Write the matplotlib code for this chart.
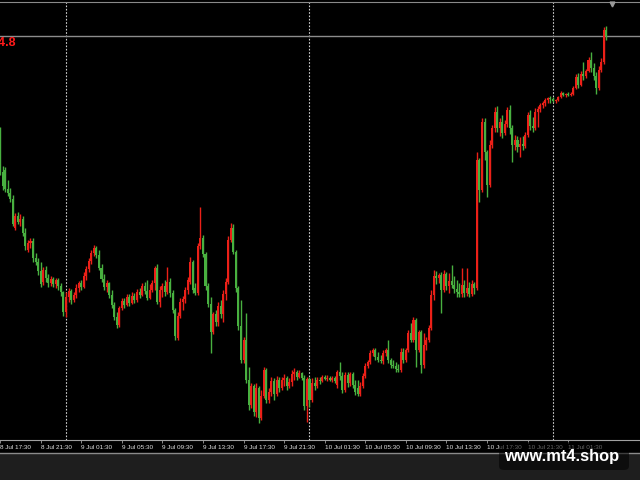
import numpy as np
import pandas as pd
import matplotlib
matplotlib.use("Agg")
import matplotlib.pyplot as plt
from matplotlib.patches import Rectangle, FancyBboxPatch
from matplotlib.lines import Line2D

# M15 candles, 8 Jul 17:30 -> 11 Jul 05:15
start_time = "2024-07-08 17:30"

opens = [
    2395.4, 2391.2, 2391.4, 2389.5, 2389.1, 2388.5, 2385.6, 2386.8, 2386.2, 2386.5,
    2385.1, 2383.4, 2384.1, 2384.3, 2382.6, 2382.2, 2381.3, 2380.2, 2381.4, 2380.6,
    2380.1, 2380.5, 2380.0, 2380.4, 2379.8, 2379.2, 2377.2, 2378.7, 2379.3, 2378.4,
    2378.9, 2379.6, 2380.1, 2379.7, 2380.8, 2381.5, 2382.3, 2383.1, 2383.6, 2382.9,
    2381.6, 2380.5, 2379.7, 2380.1, 2378.9, 2377.9, 2376.7, 2375.9, 2377.6, 2378.3,
    2377.9, 2378.7, 2378.1, 2378.8, 2378.4, 2379.2, 2378.9, 2379.8, 2379.3, 2378.6,
    2379.4, 2380.1, 2381.6, 2378.2, 2379.4, 2379.8, 2379.2, 2380.2, 2379.1, 2377.4,
    2374.6, 2376.8, 2378.2, 2378.5, 2379.4, 2380.2, 2382.2, 2379.6, 2379.1, 2383.8,
    2384.6, 2383.0, 2379.8, 2378.0, 2375.2, 2377.0, 2376.2, 2377.8, 2377.0, 2379.0,
    2380.2, 2384.4, 2385.6, 2383.2, 2379.6, 2375.8, 2372.4, 2374.4, 2370.4, 2367.9,
    2369.8, 2367.2, 2369.6, 2366.6, 2368.8, 2371.4, 2368.4, 2369.2, 2370.3, 2369.0,
    2370.4, 2369.6, 2370.4, 2370.6, 2369.8, 2370.2, 2371.0, 2371.2, 2370.7, 2371.1,
    2370.6, 2367.8, 2370.5, 2368.4, 2370.1, 2369.8, 2370.4, 2370.3, 2370.7, 2370.5,
    2370.6, 2370.4, 2370.6, 2369.9, 2371.2, 2370.8, 2369.4, 2370.9, 2370.1, 2371.0,
    2369.9, 2369.6, 2369.0, 2369.8, 2370.8, 2371.8, 2372.2, 2373.1, 2373.4, 2372.7,
    2372.4, 2372.3, 2373.1, 2373.4, 2372.4, 2371.9, 2371.8, 2371.5, 2371.4, 2373.2,
    2372.4, 2373.4, 2375.1, 2374.4, 2376.4, 2373.4, 2375.2, 2371.9, 2373.9, 2374.4,
    2375.6, 2378.9, 2380.8, 2380.6, 2380.9, 2379.4, 2381.0, 2379.8, 2380.3, 2379.9,
    2379.5, 2379.2, 2379.0, 2379.9, 2379.1, 2379.6, 2379.0, 2380.0, 2379.6, 2392.4,
    2389.4, 2396.2, 2393.2, 2389.9, 2393.9, 2395.6, 2397.2, 2395.6, 2396.2, 2395.1,
    2396.0, 2397.4, 2395.6, 2393.9, 2394.4, 2393.7, 2394.0, 2393.8, 2394.9, 2396.9,
    2395.8, 2395.6, 2397.2, 2397.5, 2397.9, 2398.1, 2398.4, 2398.6, 2398.5, 2398.3,
    2398.4, 2398.7, 2399.1, 2398.9, 2399.0, 2398.9, 2399.0, 2399.6, 2400.7, 2399.9,
    2401.0, 2400.8, 2401.3, 2402.4, 2401.6, 2400.8, 2399.6, 2401.4, 2402.2, 2405.4,
]
highs = [
    2395.7, 2391.8, 2391.7, 2390.4, 2389.6, 2388.9, 2387.1, 2387.2, 2387.0, 2386.8,
    2385.6, 2384.4, 2384.6, 2384.6, 2383.1, 2382.6, 2382.2, 2381.7, 2381.8, 2381.0,
    2380.8, 2380.7, 2380.6, 2380.6, 2380.1, 2379.3, 2379.2, 2379.6, 2379.5, 2379.2,
    2380.0, 2380.3, 2380.4, 2381.2, 2381.8, 2382.6, 2383.4, 2383.9, 2383.8, 2383.4,
    2382.0, 2381.0, 2380.4, 2380.2, 2379.4, 2378.2, 2377.2, 2377.8, 2378.6, 2378.6,
    2379.0, 2379.0, 2379.2, 2379.1, 2379.5, 2379.6, 2380.1, 2380.2, 2380.4, 2380.0,
    2380.4, 2381.8, 2382.0, 2379.8, 2380.1, 2380.4, 2381.7, 2380.6, 2379.4, 2377.6,
    2377.2, 2378.6, 2378.8, 2379.7, 2380.7, 2382.7, 2382.4, 2380.1, 2384.1, 2387.7,
    2384.9, 2383.2, 2380.1, 2378.7, 2377.2, 2377.4, 2378.2, 2378.4, 2379.4, 2380.6,
    2384.8, 2386.1, 2386.0, 2383.4, 2379.8, 2378.4, 2374.7, 2377.1, 2371.7, 2370.1,
    2370.0, 2370.1, 2369.8, 2369.4, 2371.7, 2371.6, 2369.6, 2370.7, 2370.6, 2370.8,
    2370.7, 2370.7, 2371.0, 2370.8, 2370.6, 2371.4, 2371.6, 2371.4, 2371.4, 2371.2,
    2370.9, 2370.7, 2370.7, 2370.6, 2370.7, 2370.7, 2370.7, 2370.9, 2370.9, 2370.9,
    2370.8, 2370.8, 2370.8, 2371.4, 2372.2, 2371.2, 2371.2, 2371.2, 2371.2, 2371.2,
    2370.4, 2370.4, 2370.2, 2371.1, 2372.1, 2372.4, 2373.4, 2373.6, 2373.6, 2373.2,
    2372.9, 2373.4, 2373.6, 2374.4, 2372.6, 2372.4, 2372.2, 2372.0, 2373.6, 2373.6,
    2373.6, 2375.4, 2376.1, 2376.7, 2376.6, 2375.4, 2375.4, 2375.1, 2374.7, 2375.9,
    2379.4, 2381.4, 2381.3, 2381.1, 2381.2, 2381.4, 2381.2, 2381.1, 2381.9, 2380.8,
    2380.4, 2380.1, 2381.6, 2380.4, 2381.6, 2380.2, 2380.4, 2380.2, 2393.2, 2392.6,
    2396.6, 2396.6, 2393.4, 2394.4, 2395.9, 2397.7, 2397.8, 2396.6, 2396.9, 2396.4,
    2397.7, 2397.9, 2395.9, 2394.9, 2394.8, 2394.7, 2394.8, 2395.2, 2397.2, 2397.4,
    2396.7, 2397.6, 2397.8, 2398.1, 2398.3, 2398.6, 2398.7, 2398.8, 2398.7, 2398.5,
    2398.8, 2399.3, 2399.2, 2399.1, 2399.2, 2399.2, 2399.8, 2401.0, 2401.1, 2401.3,
    2402.2, 2401.5, 2402.7, 2403.2, 2402.1, 2401.2, 2401.8, 2402.6, 2405.7, 2405.8,
]
lows = [
    2390.9, 2389.4, 2389.2, 2388.8, 2388.2, 2385.8, 2385.4, 2386.0, 2385.8, 2384.8,
    2383.4, 2383.2, 2383.6, 2382.2, 2381.9, 2380.9, 2379.7, 2379.9, 2380.2, 2379.7,
    2379.8, 2379.7, 2379.6, 2379.4, 2378.8, 2376.8, 2376.7, 2378.2, 2378.0, 2378.2,
    2378.6, 2379.2, 2379.4, 2379.6, 2380.4, 2381.2, 2382.0, 2382.8, 2382.6, 2381.4,
    2380.2, 2379.4, 2379.2, 2378.6, 2377.6, 2376.4, 2375.6, 2375.7, 2377.4, 2377.6,
    2377.8, 2377.8, 2378.0, 2378.1, 2378.2, 2378.6, 2378.8, 2379.0, 2378.4, 2378.5,
    2379.2, 2379.4, 2378.0, 2377.7, 2378.7, 2378.8, 2379.0, 2378.7, 2377.1, 2374.4,
    2374.4, 2376.6, 2377.4, 2378.1, 2379.0, 2380.0, 2379.1, 2378.9, 2378.9, 2383.5,
    2382.7, 2379.4, 2377.7, 2373.1, 2375.0, 2375.8, 2375.8, 2376.6, 2376.2, 2378.4,
    2380.0, 2384.2, 2383.0, 2379.2, 2375.4, 2372.1, 2372.1, 2370.1, 2367.4, 2367.6,
    2366.8, 2366.7, 2366.1, 2366.4, 2368.6, 2368.1, 2368.1, 2368.8, 2368.4, 2368.8,
    2369.2, 2369.4, 2369.8, 2369.4, 2369.6, 2369.8, 2370.4, 2370.4, 2370.6, 2370.4,
    2367.4, 2366.2, 2367.7, 2368.2, 2369.4, 2369.6, 2370.0, 2370.2, 2370.4, 2370.3,
    2370.3, 2370.2, 2370.1, 2369.6, 2370.4, 2369.1, 2369.2, 2369.7, 2369.8, 2369.6,
    2368.9, 2368.8, 2368.8, 2369.6, 2370.6, 2371.6, 2372.0, 2372.8, 2372.4, 2372.2,
    2372.1, 2372.0, 2372.8, 2372.1, 2371.6, 2371.6, 2371.2, 2371.2, 2371.2, 2372.1,
    2372.2, 2373.2, 2374.2, 2374.2, 2371.7, 2373.2, 2371.1, 2371.6, 2373.4, 2374.2,
    2375.4, 2378.4, 2380.0, 2380.1, 2377.1, 2379.2, 2379.4, 2379.1, 2379.6, 2379.1,
    2378.7, 2378.7, 2378.7, 2378.7, 2378.8, 2378.7, 2378.8, 2379.0, 2379.4, 2388.2,
    2389.2, 2392.4, 2388.7, 2389.7, 2393.6, 2395.2, 2395.2, 2394.8, 2394.6, 2394.9,
    2395.7, 2395.0, 2392.2, 2393.4, 2393.2, 2392.7, 2393.4, 2393.6, 2394.7, 2395.4,
    2395.2, 2395.4, 2395.7, 2397.2, 2397.6, 2397.8, 2398.1, 2398.1, 2398.2, 2398.1,
    2398.3, 2398.6, 2398.8, 2398.7, 2398.8, 2398.8, 2398.9, 2399.5, 2399.6, 2399.8,
    2400.4, 2400.6, 2401.2, 2401.2, 2400.4, 2399.0, 2399.4, 2401.2, 2402.0, 2404.4,
]
closes = [
    2391.2, 2389.8, 2389.5, 2389.1, 2388.5, 2386.0, 2386.8, 2386.2, 2386.5, 2385.1,
    2383.8, 2384.1, 2384.3, 2382.6, 2382.2, 2381.3, 2380.0, 2381.4, 2380.6, 2380.1,
    2380.5, 2380.0, 2380.4, 2379.8, 2379.2, 2377.2, 2378.7, 2379.3, 2378.4, 2378.9,
    2379.6, 2380.1, 2379.7, 2380.8, 2381.5, 2382.3, 2383.1, 2383.6, 2382.9, 2381.6,
    2380.5, 2379.7, 2380.1, 2378.9, 2377.9, 2376.7, 2375.9, 2377.6, 2378.3, 2377.9,
    2378.7, 2378.1, 2378.8, 2378.4, 2379.2, 2378.9, 2379.8, 2379.3, 2378.6, 2379.4,
    2380.1, 2381.6, 2378.2, 2379.4, 2379.8, 2379.2, 2380.2, 2379.1, 2377.4, 2374.8,
    2376.8, 2378.2, 2378.5, 2379.4, 2380.4, 2382.2, 2379.4, 2379.1, 2383.8, 2384.6,
    2383.0, 2379.8, 2378.0, 2375.2, 2377.0, 2376.2, 2377.8, 2377.0, 2379.0, 2380.2,
    2384.4, 2385.6, 2383.2, 2379.6, 2375.8, 2372.4, 2374.4, 2370.4, 2367.9, 2369.8,
    2367.2, 2369.6, 2366.6, 2368.8, 2371.4, 2368.4, 2369.2, 2370.3, 2369.0, 2370.4,
    2369.6, 2370.4, 2370.6, 2369.8, 2370.2, 2371.0, 2371.2, 2370.7, 2371.1, 2370.6,
    2367.8, 2370.5, 2368.4, 2370.1, 2369.8, 2370.4, 2370.3, 2370.7, 2370.5, 2370.6,
    2370.4, 2370.6, 2370.3, 2371.2, 2370.8, 2369.4, 2370.9, 2370.1, 2371.0, 2369.9,
    2369.2, 2369.0, 2369.8, 2370.8, 2371.8, 2372.2, 2373.1, 2373.4, 2372.7, 2372.4,
    2372.3, 2373.1, 2373.4, 2372.4, 2371.9, 2371.8, 2371.5, 2371.4, 2373.2, 2372.4,
    2373.4, 2375.1, 2374.4, 2376.4, 2373.4, 2375.2, 2371.9, 2373.9, 2374.4, 2375.6,
    2378.9, 2380.8, 2380.6, 2380.9, 2379.4, 2381.0, 2379.8, 2380.3, 2379.9, 2379.5,
    2379.2, 2379.0, 2379.9, 2379.1, 2379.6, 2379.0, 2380.0, 2379.6, 2392.4, 2389.4,
    2396.2, 2393.2, 2389.9, 2393.9, 2395.6, 2397.2, 2395.6, 2396.2, 2395.1, 2396.0,
    2397.4, 2395.6, 2393.9, 2394.4, 2393.7, 2394.0, 2393.8, 2394.9, 2396.9, 2395.8,
    2395.6, 2397.2, 2397.5, 2397.9, 2398.1, 2398.4, 2398.6, 2398.5, 2398.3, 2398.4,
    2398.7, 2399.1, 2398.9, 2399.0, 2398.9, 2399.0, 2399.6, 2400.7, 2399.9, 2401.0,
    2400.8, 2401.3, 2402.4, 2401.6, 2400.8, 2399.6, 2401.4, 2402.2, 2405.4, 2404.8,
]

tick_labels = [
    "8 Jul 17:30", "8 Jul 21:30", "9 Jul 01:30", "9 Jul 05:30", "9 Jul 09:30",
    "9 Jul 13:30", "9 Jul 17:30", "9 Jul 21:30", "10 Jul 01:30", "10 Jul 05:30",
    "10 Jul 09:30", "10 Jul 13:30", "10 Jul 17:30", "10 Jul 21:30", "11 Jul 01:30",
]
bars_per_tick = 16  # 4 hours of M15 bars

RED = "#ec2018"
GREEN = "#48b040"

o = np.array(opens)
h = np.array(highs)
l = np.array(lows)
c = np.array(closes)
x = np.arange(len(c))
times = pd.date_range(start_time, periods=len(c), freq="15min")
day_starts = x[(times.hour == 0) & (times.minute == 0)]

fig = plt.figure(figsize=(6.4, 4.8), dpi=100, facecolor="#1e1e1e")
# black chart window and its bottom edge
fig.add_artist(Rectangle((0, 27 / 480), 1, 453 / 480, transform=fig.transFigure,
                         facecolor="black", edgecolor="none", zorder=0))
fig.add_artist(Line2D([0, 1], [27 / 480, 27 / 480], transform=fig.transFigure,
                      color="#8a8a8a", lw=1, zorder=1))

ax = fig.add_axes([0, 40 / 480, 1, 438 / 480])
ax.set_facecolor("black")

colors = np.where(c > o, RED, GREEN)
ax.vlines(x, l, h, colors=colors, lw=1.0, zorder=3)
ax.bar(x, np.maximum(np.abs(c - o), 0.1), bottom=np.minimum(o, c), width=0.8,
       color=colors, linewidth=0, zorder=3)

for d in day_starts:
    ax.axvline(d, color="#d0d0d0", lw=0.8, ls=(0, (1.5, 1.5)), zorder=2)
ax.axhline(c[-1], color="#8c8c8c", lw=1, zorder=2)

ax.set_xlim(-0.02, 252.3)
ax.set_ylim(2364.4, 2408.2)
ax.set_yticks([])
ax.set_xticks(np.arange(len(tick_labels)) * bars_per_tick, tick_labels)
ax.tick_params(axis="x", colors="#a0a0a0", labelcolor="#e0e0e0", labelsize=4.6,
               length=2.5, width=0.6, pad=1.2)
for lbl in ax.get_xticklabels():
    lbl.set_ha("left")
    lbl.set_family("Liberation Sans")
for side in ["left", "right"]:
    ax.spines[side].set_visible(False)
ax.spines["bottom"].set_color("#a0a0a0")
ax.spines["top"].set_color("#8a8a8a")

# price label on the left, cut by the window edge as in the terminal
fig.text(16.5 / 640, 1 - 42.5 / 480, f"{c[-1]:.1f}", ha="right", va="center",
         color="#ff1a1a", fontsize=9, fontweight="bold", family="Liberation Sans")
# chart shift marker
fig.add_artist(Line2D([612 / 640], [1 - 4 / 480], transform=fig.transFigure,
                      marker="v", ms=3.5, color="#9a9a9a", lw=0))

# watermark
fig.add_artist(FancyBboxPatch((499 / 640, 10 / 480), 130 / 640, 28 / 480,
                              boxstyle="round,pad=0,rounding_size=0.008",
                              transform=fig.transFigure, facecolor="black",
                              edgecolor="none", alpha=0.55, zorder=5))
fig.text(562 / 640, 1 - 457 / 480, "www.mt4.shop", ha="center", va="center",
         color="white", fontsize=11.8, fontweight="bold", family="Liberation Sans",
         zorder=6)

fig.savefig("out.png", dpi=100, facecolor=fig.get_facecolor())
